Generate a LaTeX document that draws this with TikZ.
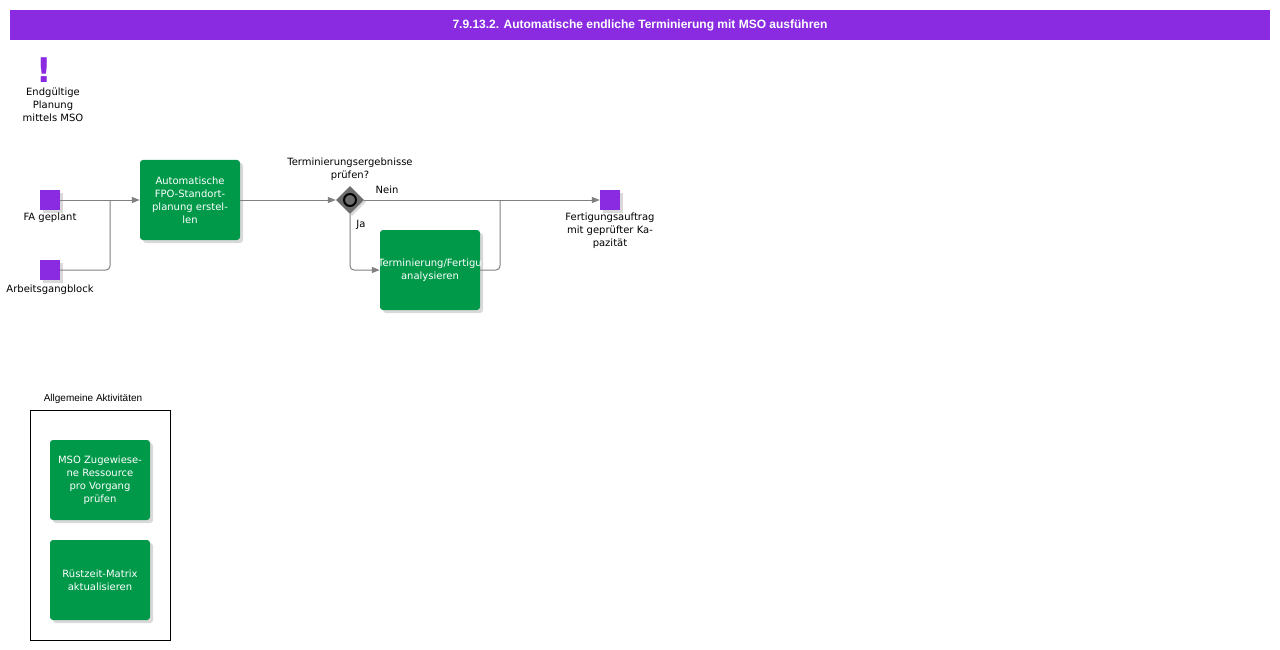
\documentclass[tikz,border=0pt]{standalone}
\usepackage{fontspec}
\setmainfont{DejaVu Sans}
\newfontfamily\titlefont{Liberation Sans}
\usetikzlibrary{arrows.meta,shapes.geometric,shadows}
\definecolor{purp}{HTML}{8A2BE2}
\definecolor{grn}{HTML}{00994A}
\tikzset{
 task/.style={fill=grn,rounded corners=3pt,minimum width=100pt,minimum height=80pt,text=white,align=center,font=\fontsize{10}{13}\selectfont,drop shadow={shadow xshift=3pt,shadow yshift=-3pt,opacity=0.3}},
 ev/.style={fill=purp,minimum size=20pt,inner sep=0pt,drop shadow={shadow xshift=3pt,shadow yshift=-3pt,opacity=0.3}},
 lbl/.style={align=center,font=\fontsize{10}{13}\selectfont,inner sep=0pt},
 conn/.style={draw=gray,line width=1pt,rounded corners=4pt,-{Triangle[length=8pt,width=6pt]}},
 plain/.style={draw=gray,line width=1pt,rounded corners=4pt}
}
\begin{document}
\begin{tikzpicture}[x=1pt,y=-1pt]
\useasboundingbox (0,0) rectangle (1280,650);
\fill[purp] (10,10) rectangle (1270,40);
\node[text=white,font=\titlefont\bfseries\fontsize{12}{14}\selectfont] (title) at (640,25) {7.9.13.2. Automatische endliche Terminierung mit MSO ausführen};
\node[text=purp,font=\bfseries\fontsize{34}{34}\selectfont,inner sep=0pt] (excl) at (44,70) {!};
\node[lbl] (excll) at (53,105) {Endgültige\\Planung\\mittels MSO};
\node[ev] (fa) at (50,200) {};
\node[lbl,anchor=north] (fal) at (50,213) {FA geplant};
\node[ev] (ag) at (50,270) {};
\node[lbl,anchor=north] (agl) at (50,285) {Arbeitsgangblock};
\node[task] (t1) at (190,200) {Automatische\\FPO-Standort-\\planung erstel-\\len};
\node[diamond,fill=gray!85!black,minimum size=28pt,inner sep=0pt,drop shadow={shadow xshift=2pt,shadow yshift=-2pt,opacity=0.3}] (gw) at (350,200) {};
\draw[line width=2pt] (gw.center) circle (6pt);
\node[lbl] (gwl) at (350,169) {Terminierungsergebnisse\\prüfen?};
\node[lbl] (nein) at (387,190) {Nein};
\node[lbl] (ja) at (361,225) {Ja};
\node[task] (t2) at (430,270) {};
\begin{scope}
\clip (380,230) rectangle (480,310);
\node[lbl,text=white] (t2l) at (430,270) {Vorplanung/Terminierung/Fertigungsaufträge\\analysieren};
\end{scope}
\node[ev] (end) at (610,200) {};
\node[lbl,anchor=north] (endl) at (610,213) {Fertigungsauftrag\\mit geprüfter Ka-\\pazität};
\coordinate (j1) at (110,200);
\coordinate (j2) at (500,200);
\draw[conn] (fa) -- (t1);
\draw[plain] (ag.east) -- (110,270) -- (j1);
\draw[conn] (t1) -- (gw);
\draw[conn] (gw.east) -- (end);
\draw[conn] (gw.south) |- (t2.west);
\draw[plain] (t2.east) -| (j2);
\node[font=\titlefont\fontsize{10}{12}\selectfont] (gl) at (93,399) {Allgemeine Aktivitäten};
\draw[black] (30,410) rectangle (170,640);
\node[task] (t3) at (100,480) {MSO Zugewiese-\\ne Ressource\\pro Vorgang\\prüfen};
\node[task] (t4) at (100,580) {Rüstzeit-Matrix\\aktualisieren};
\end{tikzpicture}
\end{document}
